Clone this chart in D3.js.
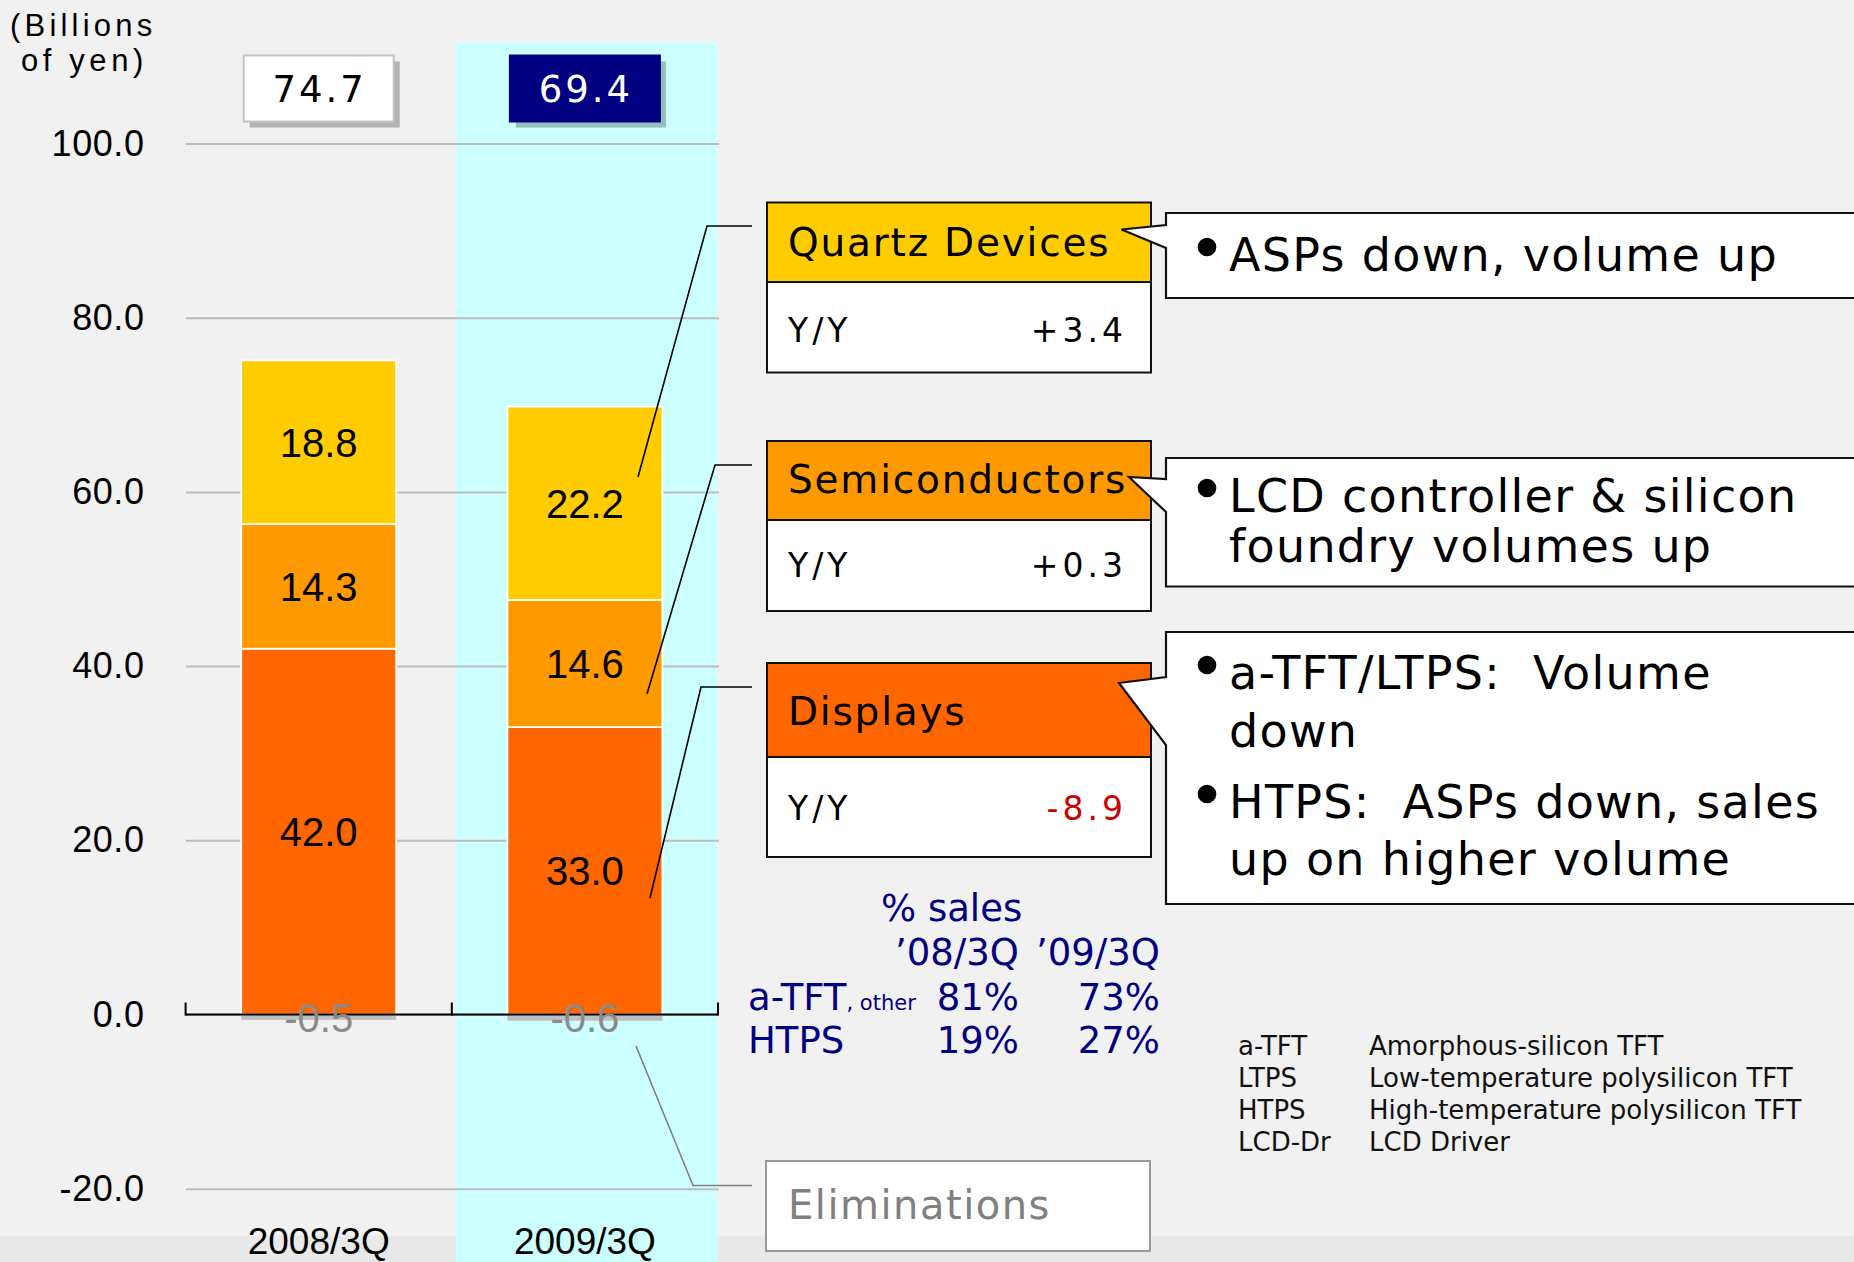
<!DOCTYPE html>
<html>
<head>
<meta charset="utf-8">
<title>Electronic Devices segment sales</title>
<script src="https://cdn.jsdelivr.net/npm/d3@7"></script>
<style>
  body { margin: 0; background: #f1f1f1; }
  svg { display: block; }
</style>
</head>
<body>
<svg id="chart" width="1854" height="1262"></svg>
<script>
// values, billions of yen
const categories = ["2008/3Q", "2009/3Q"]
const displays = [42.0, 33.0]
const semiconductors = [14.3, 14.6]
const quartz = [18.8, 22.2]
const eliminations = [-0.5, -0.6]
const totals = [74.7, 69.4]
const yTicks = [-20, 0, 20, 40, 60, 80, 100]

const segmentNames = ["Displays", "Semiconductors", "Quartz Devices"]
const segmentColors = ["#ff6600", "#ff9900", "#ffcc00"]
const yoyChange = ["-8.9", "+0.3", "+3.4"]
const comments = [
  [["a-TFT/LTPS:  Volume", "down"], ["HTPS:  ASPs down, sales", "up on higher volume"]],
  [["LCD controller & silicon", "foundry volumes up"]],
  [["ASPs down, volume up"]]
]

const salesPeriods = ["’08/3Q", "’09/3Q"]
const salesRows = ["a-TFT", "HTPS"]
const salesShare = [[81, 73], [19, 27]]

const abbrevs = ["a-TFT", "LTPS", "HTPS", "LCD-Dr"]
const abbrevMeaning = ["Amorphous-silicon TFT", "Low-temperature polysilicon TFT",
  "High-temperature polysilicon TFT", "LCD Driver"]

const W = 1854, H = 1262
const ARIAL = "'Liberation Sans', Arial, sans-serif"
const GOTHIC = "'DejaVu Sans', Verdana, sans-serif"

const svg = d3.select("#chart")

// background + bottom strip + highlighted period
svg.append("rect").attr("width", W).attr("height", H).attr("fill", "#f1f1f1")
svg.append("rect").attr("y", 1236).attr("width", W).attr("height", H - 1236).attr("fill", "#e9e9e9")

const y = d3.scaleLinear().domain([-20, 100]).range([1188.7, 143.5])
const x = d3.scaleBand().domain(categories).range([185.6, 718])
  .paddingInner(0.418).paddingOuter(0.209)

svg.append("rect")
  .attr("x", x.range()[0] + x.step() + 4).attr("y", 42)
  .attr("width", x.step() - 5).attr("height", H - 42)
  .attr("fill", "#ccffff")

// gridlines + tick labels
const fmt = d3.format(".1f")
const yAxis = svg.append("g")
  .attr("transform", `translate(${x.range()[0]},0)`)
  .call(d3.axisLeft(y).tickValues(yTicks)
    .tickSize(-(x.range()[1] - x.range()[0] + 1))
    .tickPadding(41)
    .tickFormat(d => fmt(d).replace("−", "-")))
yAxis.select(".domain").remove()
yAxis.selectAll("line").attr("stroke", "#bdbdbd").attr("stroke-width", 2)
yAxis.selectAll("text")
  .attr("font-family", ARIAL).attr("font-size", 36)
  .attr("letter-spacing", 0.6).attr("fill", "#000")

svg.append("text").attr("x", 10).attr("y", 36)
  .attr("font-family", ARIAL).attr("font-size", 31).attr("letter-spacing", 4.2)
  .text("(Billions")
svg.append("text").attr("x", 21).attr("y", 71)
  .attr("font-family", ARIAL).attr("font-size", 31).attr("letter-spacing", 4.6)
  .text("of yen)")

// stacked bars
const rows = categories.map((c, i) => ({
  cat: c, Displays: displays[i], Semiconductors: semiconductors[i], "Quartz Devices": quartz[i]
}))
const series = d3.stack().keys(segmentNames)(rows)

const bars = svg.append("g")
series.forEach((s, k) => {
  bars.selectAll(null).data(s).join("rect")
    .attr("x", d => x(d.data.cat))
    .attr("y", d => y(d[1]))
    .attr("width", x.bandwidth())
    .attr("height", d => y(d[0]) - y(d[1]))
    .attr("fill", segmentColors[k])
    .attr("stroke", "#fff").attr("stroke-width", 1.8)
  bars.selectAll(null).data(s).join("text")
    .attr("x", d => x(d.data.cat) + x.bandwidth() / 2)
    .attr("y", d => (y(d[0]) + y(d[1])) / 2)
    .attr("dy", "0.36em")
    .attr("text-anchor", "middle")
    .attr("font-family", ARIAL).attr("font-size", 40)
    .text(d => (d[1] - d[0]).toFixed(1))
})

// eliminations below zero
bars.selectAll(null).data(eliminations).join("rect")
  .attr("x", (d, i) => x(categories[i]))
  .attr("y", y(0))
  .attr("width", x.bandwidth())
  .attr("height", d => y(d) - y(0) + 1)
  .attr("fill", "#bfbfbf")

// x axis line with upward ticks at band edges
const x0 = x.range()[0], x1 = x.range()[1]
svg.append("line").attr("x1", x0).attr("x2", x1).attr("y1", y(0)).attr("y2", y(0))
  .attr("stroke", "#000").attr("stroke-width", 2)
svg.selectAll(null).data(d3.range(categories.length + 1)).join("line")
  .attr("x1", i => x0 + i * x.step()).attr("x2", i => x0 + i * x.step())
  .attr("y1", y(0) - 12).attr("y2", y(0) + 1)
  .attr("stroke", "#000").attr("stroke-width", 2)

svg.selectAll(null).data(eliminations).join("text")
  .attr("x", (d, i) => x(categories[i]) + x.bandwidth() / 2)
  .attr("y", y(0) + 17)
  .attr("text-anchor", "middle")
  .attr("font-family", ARIAL).attr("font-size", 40).attr("fill", "#8a8a8a")
  .text(d => d.toFixed(1))

svg.selectAll(null).data(categories).join("text")
  .attr("x", d => x(d) + x.bandwidth() / 2)
  .attr("y", 1254)
  .attr("text-anchor", "middle")
  .attr("font-family", ARIAL).attr("font-size", 37)
  .text(d => d)

// total boxes above bars
categories.forEach((c, i) => {
  const cx = x(c) + x.bandwidth() / 2
  svg.append("rect").attr("x", cx - 75 + 6).attr("y", 61.5).attr("width", 150).attr("height", 66)
    .attr("fill", "#000").attr("opacity", 0.26)
  svg.append("rect").attr("x", cx - 75).attr("y", 55.5).attr("width", 150).attr("height", 66)
    .attr("fill", i ? "#000080" : "#fff")
    .attr("stroke", i ? "#000080" : "#c4c4c4").attr("stroke-width", 2)
  svg.append("text").attr("x", cx + 1).attr("y", 102)
    .attr("text-anchor", "middle")
    .attr("font-family", GOTHIC).attr("font-size", 37).attr("letter-spacing", 3)
    .attr("fill", i ? "#fff" : "#000")
    .text(totals[i].toFixed(1))
})

// segment boxes, callouts, leader lines (layout positions)
const boxLeft = 767, boxRight = 1151, calloutLeft = 1166, calloutRight = 1862
const layout = [
  { top: 663, mid: 757, bottom: 857, titleY: 725, yyY: 820,
    cTop: 632, cBottom: 904, b0: 677, b1: 745, tip: [1119, 683],
    lines: [689, 747, 818, 875], from: [650, 898], corner: [701, 687] },
  { top: 441, mid: 520, bottom: 611, titleY: 493, yyY: 577,
    cTop: 458, cBottom: 586.5, b0: 479, b1: 512, tip: [1129, 477],
    lines: [512, 562], from: [647, 694], corner: [715, 465] },
  { top: 202.5, mid: 282, bottom: 372.5, titleY: 256, yyY: 342,
    cTop: 213, cBottom: 298, b0: 225, b1: 248, tip: [1121.5, 229.5],
    lines: [271], from: [638, 477], corner: [707, 226] }
]

layout.forEach((L, k) => {
  svg.append("polyline")
    .attr("points", [L.from, L.corner, [752, L.corner[1]]].join(" "))
    .attr("fill", "none").attr("stroke", "#000").attr("stroke-width", 1.6)

  svg.append("rect").attr("x", boxLeft).attr("y", L.top)
    .attr("width", boxRight - boxLeft).attr("height", L.mid - L.top)
    .attr("fill", segmentColors[k]).attr("stroke", "#111").attr("stroke-width", 2)
  svg.append("rect").attr("x", boxLeft).attr("y", L.mid)
    .attr("width", boxRight - boxLeft).attr("height", L.bottom - L.mid)
    .attr("fill", "#fff").attr("stroke", "#111").attr("stroke-width", 2)

  svg.append("text").attr("x", 788).attr("y", L.titleY)
    .attr("font-family", GOTHIC).attr("font-size", 39).attr("letter-spacing", 1.8)
    .text(segmentNames[k])
  svg.append("text").attr("x", 788).attr("y", L.yyY)
    .attr("font-family", GOTHIC).attr("font-size", 33).attr("letter-spacing", 4)
    .text("Y/Y")
  svg.append("text").attr("x", 1127).attr("y", L.yyY)
    .attr("text-anchor", "end")
    .attr("font-family", GOTHIC).attr("font-size", 33).attr("letter-spacing", 4)
    .attr("fill", yoyChange[k].startsWith("-") ? "#cc0000" : "#000")
    .text(yoyChange[k])

  // callout with pointer
  const p = d3.path()
  p.moveTo(calloutLeft, L.cTop)
  p.lineTo(calloutRight, L.cTop)
  p.lineTo(calloutRight, L.cBottom)
  p.lineTo(calloutLeft, L.cBottom)
  p.lineTo(calloutLeft, L.b1)
  p.lineTo(L.tip[0], L.tip[1])
  p.lineTo(calloutLeft, L.b0)
  p.closePath()
  svg.append("path").attr("d", p.toString())
    .attr("fill", "#fff").attr("stroke", "#111").attr("stroke-width", 2.2)

  let li = 0
  comments[k].forEach(group => {
    group.forEach((line, j) => {
      const by = L.lines[li++]
      if (j === 0) {
        svg.append("circle").attr("cx", 1207).attr("cy", by - 24).attr("r", 9.3).attr("fill", "#000")
      }
      svg.append("text").attr("x", 1229).attr("y", by)
        .attr("font-family", GOTHIC).attr("font-size", 46).attr("letter-spacing", 1.3)
        .attr("xml:space", "preserve")
        .text(line)
    })
  })
})

// eliminations label
svg.append("polyline")
  .attr("points", [[636, 1046], [693, 1185.5], [752, 1185.5]].join(" "))
  .attr("fill", "none").attr("stroke", "#808080").attr("stroke-width", 1.6)
svg.append("rect").attr("x", 766).attr("y", 1161).attr("width", 384).attr("height", 90)
  .attr("fill", "#fff").attr("stroke", "#9a9a9a").attr("stroke-width", 2)
svg.append("text").attr("x", 788).attr("y", 1219)
  .attr("font-family", GOTHIC).attr("font-size", 40).attr("letter-spacing", 1.5)
  .attr("fill", "#808080")
  .text("Eliminations")

// % sales table
const navy = "#000080"
const colEnd = [1019, 1160]
svg.append("text").attr("x", 881).attr("y", 921)
  .attr("font-family", GOTHIC).attr("font-size", 37).attr("fill", navy)
  .text("% sales")
salesPeriods.forEach((p, i) => {
  svg.append("text").attr("x", colEnd[i]).attr("y", 965).attr("text-anchor", "end")
    .attr("font-family", GOTHIC).attr("font-size", 37).attr("fill", navy).text(p)
})
const rowY = [1010, 1053]
salesRows.forEach((r, ri) => {
  const t = svg.append("text").attr("x", 748).attr("y", rowY[ri])
    .attr("font-family", GOTHIC).attr("font-size", 37).attr("fill", navy)
  t.append("tspan").text(r)
  if (ri === 0) t.append("tspan").attr("font-size", 21).text(", other")
  salesShare[ri].forEach((v, ci) => {
    svg.append("text").attr("x", colEnd[ci]).attr("y", rowY[ri]).attr("text-anchor", "end")
      .attr("font-family", GOTHIC).attr("font-size", 37).attr("fill", navy).text(v + "%")
  })
})

// abbreviations
abbrevs.forEach((a, i) => {
  svg.append("text").attr("x", 1238).attr("y", 1055 + i * 32)
    .attr("font-family", GOTHIC).attr("font-size", 26).attr("fill", "#111").text(a)
  svg.append("text").attr("x", 1369).attr("y", 1055 + i * 32)
    .attr("font-family", GOTHIC).attr("font-size", 26).attr("fill", "#111").text(abbrevMeaning[i])
})
</script>
</body>
</html>
